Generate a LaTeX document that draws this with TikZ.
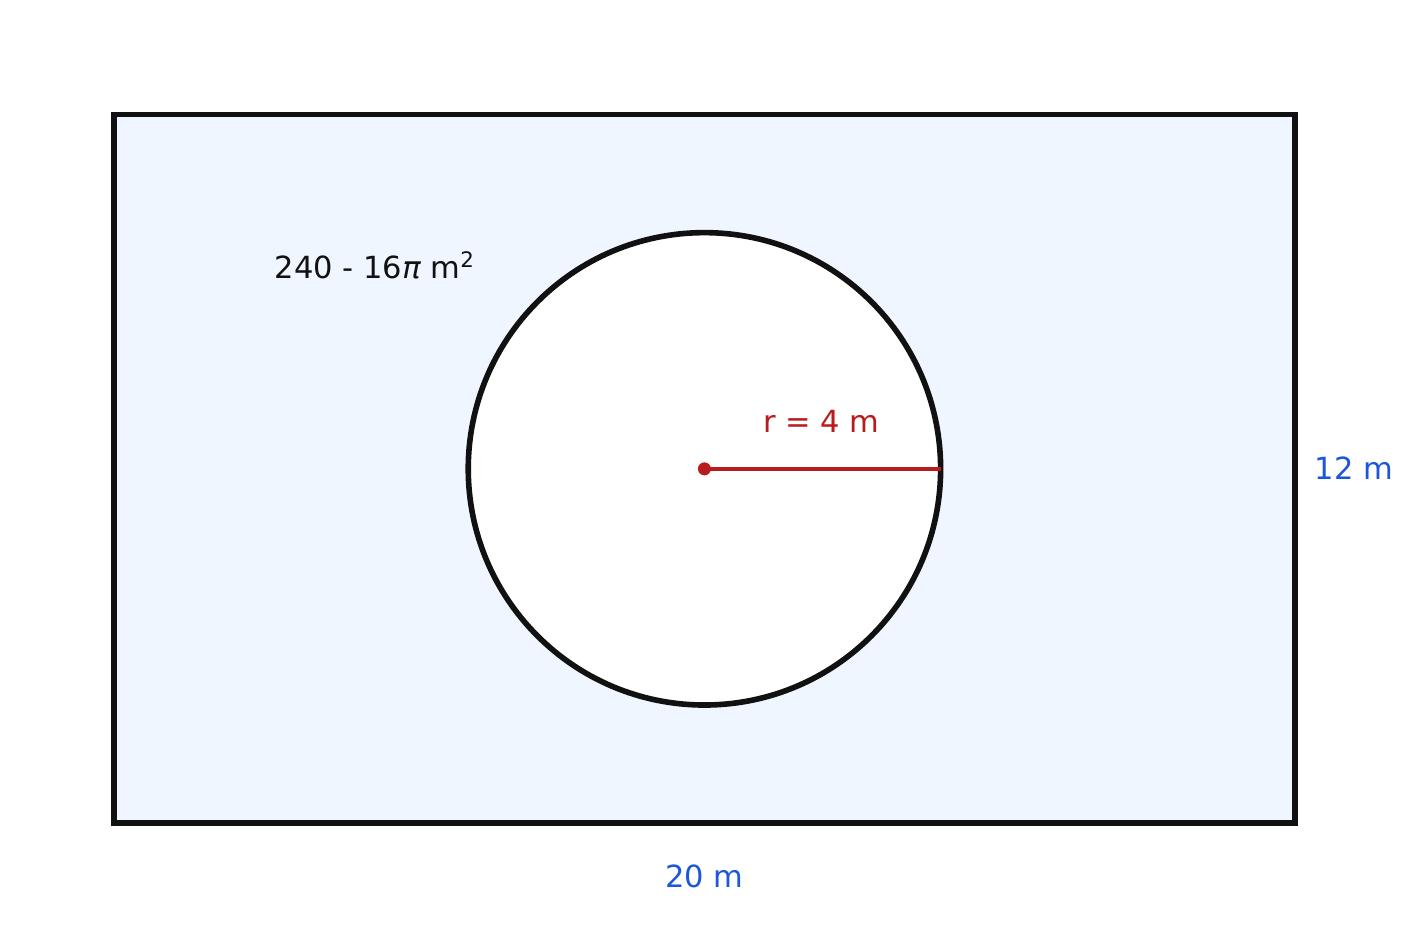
\documentclass[tikz,border=0pt]{standalone}
\usepackage{fontspec}
\setmainfont{DejaVu Sans}
\usetikzlibrary{positioning}
\definecolor{plotfill}{HTML}{EFF6FF}
\definecolor{plotline}{HTML}{111111}
\definecolor{plotred}{HTML}{B91C1C}
\definecolor{plotblue}{HTML}{1D56DB}

\begin{document}
\begin{tikzpicture}[line cap=round,line join=round,x=1cm,y=1cm,
  dimlabel/.style={color=plotblue,font=\fontsize{14.7}{17}\selectfont},
  arealabel/.style={color=plotline,font=\fontsize{14.7}{17}\selectfont}]
\useasboundingbox (-1.93,-1.93) rectangle (22.0,13.94);
\draw[line width=2.7pt,color=plotline,fill=plotfill,line cap=butt,line join=miter] (0,0) rectangle (20,12);
\draw[line width=2.7pt,color=plotline,fill=white] (10,6) circle (4);
\coordinate (ctr) at (10,6);
\coordinate (rim) at (14,6);
\draw[line width=2.2pt,color=plotred,line cap=butt] (ctr) -- (rim);
\fill[color=plotred] (ctr) circle (0.11);
\node[color=plotred,font=\fontsize{14.7}{17}\selectfont] (rlab) at (11.98,6.81) {r = 4 m};
\node[arealabel] (area) at (4.42,9.45) {240 - 16\textit{π} m\textsuperscript{2}};
\node[dimlabel] (wlab) at (10,-0.9) {20 m};
\node[dimlabel] (hlab) at (21.0,6.01) {12 m};
\end{tikzpicture}
\end{document}
